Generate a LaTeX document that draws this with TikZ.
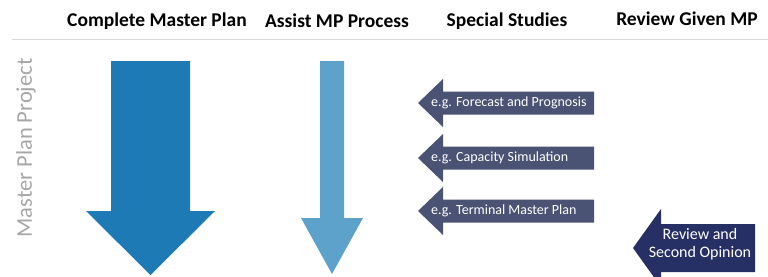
\documentclass[tikz,border=0pt]{standalone}
\usepackage{fontspec}
\setmainfont{Carlito}
\usepackage{xcolor}
\definecolor{mpblue}{HTML}{1D7AB5}
\definecolor{mplight}{HTML}{5DA2CA}
\definecolor{mpslate}{HTML}{4B5375}
\definecolor{mpnavy}{HTML}{263065}
\definecolor{mpgrey}{HTML}{A6A6A6}
\definecolor{mprule}{HTML}{D9D9D9}
\usepackage{tikz}
\usetikzlibrary{positioning}

\begin{document}
\begin{tikzpicture}[x=1pt,y=-1pt,
  colhead/.style={font=\fontsize{19.5}{22}\selectfont\bfseries,inner sep=0pt},
  studytxt/.style={font=\fontsize{14}{16}\selectfont,text=white,inner sep=0pt,anchor=west},
  leftarrow/.style={fill=mpslate,draw=none}]
\useasboundingbox (0,0) rectangle (768,276);
% column headings
\node[colhead] (hcomplete) at (157,21) {Complete Master Plan};
\node[colhead] (hassist) at (337,21) {Assist MP Process};
\node[colhead] (hspecial) at (507,21) {Special Studies};
\node[colhead] (hreview) at (687,19) {Review Given MP};
\draw[mprule,line width=1pt] (12,39) -- (768,39);
% side label
\node[rotate=90,text=mpgrey,font=\fontsize{22.5}{24}\selectfont,inner sep=0pt] (project) at (26,148) {Master Plan Project};
% down arrows
\fill[mpblue] (111,61) -- (190,61) -- (190,211) -- (215,211) -- (150.5,275) -- (86,211) -- (111,211) -- cycle;
\fill[mplight] (320,61) -- (344,61) -- (344,218) -- (363,218) -- (332,274) -- (301,218) -- (320,218) -- cycle;
% special studies
\foreach \yc/\name/\txt in {103/forecast/Forecast and Prognosis,158/capacity/Capacity Simulation,211/terminal/Terminal Master Plan}{
  \fill[leftarrow] (594,\yc-11.5) -- (594,\yc+11.5) -- (443,\yc+11.5) -- (443,\yc+24) -- (418,\yc) -- (443,\yc-24) -- (443,\yc-11.5) -- cycle;
  \node[studytxt] (\name) at (431,\yc) {e.g. \txt};
}
% review
\fill[mpnavy] (755,224) -- (755,272) -- (661,272) -- (661,287) -- (633,248) -- (661,209) -- (661,224) -- cycle;
\node[align=center,text=white,font=\fontsize{16}{18}\selectfont,inner sep=0pt] (secondop) at (700,244) {Review and\\Second Opinion};
\end{tikzpicture}
\end{document}
